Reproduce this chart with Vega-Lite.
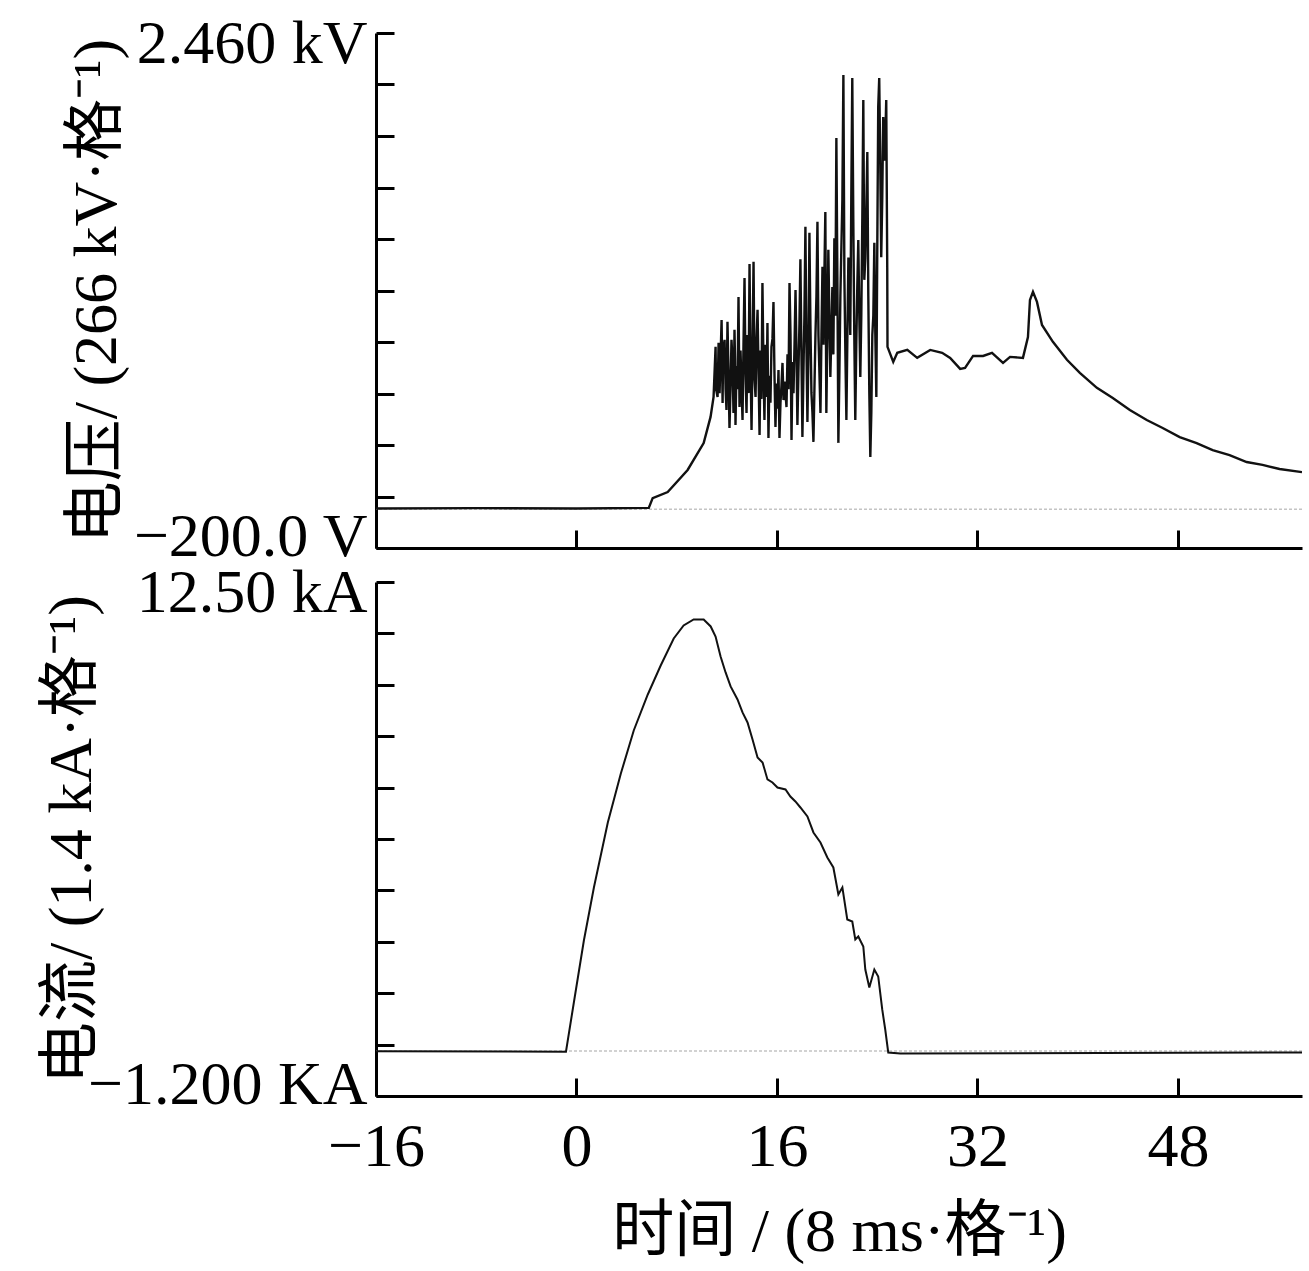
{
  "$schema": "https://vega.github.io/schema/vega-lite/v6.json",
  "background": "white",
  "padding": {"left": 40, "top": 12, "right": 5, "bottom": 10},
  "bounds": "flush",
  "spacing": 34,
  "datasets": {
    "voltage": [
      {"t": -16, "v": 0.004}, {"t": -8, "v": 0.006}, {"t": 0, "v": 0.004}, {"t": 5.77, "v": 0.007},
      {"t": 6.08, "v": 0.058}, {"t": 7.28, "v": 0.089}, {"t": 8.87, "v": 0.203}, {"t": 10.15, "v": 0.342},
      {"t": 10.7, "v": 0.477}, {"t": 10.94, "v": 0.58}, {"t": 11.1, "v": 0.839}, {"t": 11.14, "v": 0.62},
      {"t": 11.26, "v": 0.58}, {"t": 11.34, "v": 0.86}, {"t": 11.42, "v": 0.6}, {"t": 11.5, "v": 0.79},
      {"t": 11.58, "v": 0.978}, {"t": 11.66, "v": 0.549}, {"t": 11.7, "v": 0.82}, {"t": 11.82, "v": 0.875},
      {"t": 11.9, "v": 0.62}, {"t": 11.97, "v": 0.513}, {"t": 12.05, "v": 0.968}, {"t": 12.13, "v": 0.71},
      {"t": 12.21, "v": 0.42}, {"t": 12.29, "v": 0.62}, {"t": 12.37, "v": 0.875}, {"t": 12.45, "v": 0.77},
      {"t": 12.53, "v": 0.497}, {"t": 12.57, "v": 0.7}, {"t": 12.61, "v": 0.927}, {"t": 12.65, "v": 0.78},
      {"t": 12.69, "v": 0.435}, {"t": 12.77, "v": 0.74}, {"t": 12.85, "v": 0.62}, {"t": 12.93, "v": 1.097},
      {"t": 13.01, "v": 0.528}, {"t": 13.09, "v": 0.82}, {"t": 13.17, "v": 0.64}, {"t": 13.25, "v": 0.461},
      {"t": 13.33, "v": 0.86}, {"t": 13.41, "v": 1.195}, {"t": 13.49, "v": 0.7}, {"t": 13.57, "v": 0.497},
      {"t": 13.65, "v": 0.9}, {"t": 13.73, "v": 0.6}, {"t": 13.81, "v": 1.267}, {"t": 13.89, "v": 0.75},
      {"t": 13.97, "v": 0.41}, {"t": 14.05, "v": 0.83}, {"t": 14.13, "v": 1.278}, {"t": 14.21, "v": 0.67},
      {"t": 14.29, "v": 0.58}, {"t": 14.37, "v": 0.88}, {"t": 14.45, "v": 1.03}, {"t": 14.53, "v": 0.7},
      {"t": 14.61, "v": 0.384}, {"t": 14.69, "v": 0.82}, {"t": 14.76, "v": 0.57}, {"t": 14.84, "v": 1.169},
      {"t": 14.92, "v": 0.75}, {"t": 15.0, "v": 0.461}, {"t": 15.08, "v": 0.85}, {"t": 15.16, "v": 0.58},
      {"t": 15.24, "v": 0.962}, {"t": 15.32, "v": 0.368}, {"t": 15.4, "v": 0.69}, {"t": 15.48, "v": 0.55},
      {"t": 15.56, "v": 0.839}, {"t": 15.64, "v": 0.88}, {"t": 15.72, "v": 1.071}, {"t": 15.8, "v": 0.7},
      {"t": 15.88, "v": 0.425}, {"t": 15.96, "v": 0.65}, {"t": 16.04, "v": 0.52}, {"t": 16.12, "v": 0.719},
      {"t": 16.2, "v": 0.368}, {"t": 16.28, "v": 0.55}, {"t": 16.36, "v": 0.64}, {"t": 16.44, "v": 0.756},
      {"t": 16.52, "v": 0.564}, {"t": 16.6, "v": 0.66}, {"t": 16.68, "v": 0.6}, {"t": 16.76, "v": 0.528},
      {"t": 16.84, "v": 0.8}, {"t": 16.92, "v": 0.62}, {"t": 17.0, "v": 1.169}, {"t": 17.08, "v": 0.9},
      {"t": 17.16, "v": 0.358}, {"t": 17.24, "v": 0.76}, {"t": 17.32, "v": 0.6}, {"t": 17.4, "v": 0.85},
      {"t": 17.48, "v": 1.133}, {"t": 17.56, "v": 0.8}, {"t": 17.63, "v": 0.435}, {"t": 17.71, "v": 0.7},
      {"t": 17.79, "v": 0.95}, {"t": 17.87, "v": 1.291}, {"t": 17.95, "v": 0.82}, {"t": 18.03, "v": 0.373},
      {"t": 18.11, "v": 0.7}, {"t": 18.19, "v": 1.0}, {"t": 18.27, "v": 1.459}, {"t": 18.35, "v": 0.85},
      {"t": 18.43, "v": 0.451}, {"t": 18.51, "v": 0.8}, {"t": 18.59, "v": 1.428}, {"t": 18.67, "v": 0.95},
      {"t": 18.75, "v": 0.601}, {"t": 18.83, "v": 0.5}, {"t": 18.91, "v": 0.348}, {"t": 19.07, "v": 0.9},
      {"t": 19.15, "v": 1.1}, {"t": 19.23, "v": 1.485}, {"t": 19.31, "v": 0.9}, {"t": 19.39, "v": 0.7},
      {"t": 19.47, "v": 0.497}, {"t": 19.55, "v": 0.9}, {"t": 19.63, "v": 1.252}, {"t": 19.71, "v": 0.85},
      {"t": 19.78, "v": 1.2}, {"t": 19.86, "v": 1.536}, {"t": 19.94, "v": 0.497}, {"t": 20.02, "v": 0.9},
      {"t": 20.1, "v": 1.34}, {"t": 20.18, "v": 1.0}, {"t": 20.26, "v": 0.683}, {"t": 20.34, "v": 0.9},
      {"t": 20.42, "v": 1.148}, {"t": 20.5, "v": 0.8}, {"t": 20.58, "v": 1.4}, {"t": 20.66, "v": 1.0},
      {"t": 20.74, "v": 1.917}, {"t": 20.82, "v": 1.2}, {"t": 20.9, "v": 0.343}, {"t": 20.98, "v": 0.7},
      {"t": 21.06, "v": 1.1}, {"t": 21.14, "v": 1.355}, {"t": 21.22, "v": 1.6}, {"t": 21.3, "v": 2.243},
      {"t": 21.38, "v": 1.2}, {"t": 21.46, "v": 0.8}, {"t": 21.54, "v": 0.461}, {"t": 21.62, "v": 0.9},
      {"t": 21.7, "v": 1.3}, {"t": 21.77, "v": 1.148}, {"t": 21.85, "v": 0.9}, {"t": 21.93, "v": 1.6},
      {"t": 22.01, "v": 2.227}, {"t": 22.09, "v": 1.5}, {"t": 22.17, "v": 0.9}, {"t": 22.25, "v": 0.461},
      {"t": 22.33, "v": 0.85}, {"t": 22.41, "v": 1.15}, {"t": 22.49, "v": 1.391}, {"t": 22.57, "v": 1.0},
      {"t": 22.65, "v": 0.683}, {"t": 22.73, "v": 1.0}, {"t": 22.81, "v": 1.5}, {"t": 22.89, "v": 2.114},
      {"t": 22.97, "v": 1.185}, {"t": 23.05, "v": 1.3}, {"t": 23.13, "v": 1.55}, {"t": 23.21, "v": 1.845},
      {"t": 23.29, "v": 1.1}, {"t": 23.37, "v": 0.6}, {"t": 23.45, "v": 0.27}, {"t": 23.53, "v": 0.5},
      {"t": 23.61, "v": 0.9}, {"t": 23.69, "v": 1.0}, {"t": 23.77, "v": 1.376}, {"t": 23.85, "v": 0.9},
      {"t": 23.93, "v": 0.58}, {"t": 24.0, "v": 1.3}, {"t": 24.08, "v": 2.078}, {"t": 24.16, "v": 2.227},
      {"t": 24.24, "v": 1.8}, {"t": 24.32, "v": 1.302}, {"t": 24.4, "v": 1.6}, {"t": 24.48, "v": 2.026},
      {"t": 24.6, "v": 1.8}, {"t": 24.72, "v": 2.114}, {"t": 24.8, "v": 1.247}, {"t": 24.82, "v": 0.839},
      {"t": 25.28, "v": 0.761}, {"t": 25.6, "v": 0.808}, {"t": 26.4, "v": 0.823}, {"t": 27.19, "v": 0.782},
      {"t": 28.23, "v": 0.823}, {"t": 29.18, "v": 0.808}, {"t": 29.82, "v": 0.782}, {"t": 30.62, "v": 0.725},
      {"t": 31.01, "v": 0.73}, {"t": 31.65, "v": 0.792}, {"t": 32.45, "v": 0.792}, {"t": 33.16, "v": 0.808},
      {"t": 34.04, "v": 0.756}, {"t": 34.6, "v": 0.787}, {"t": 35.63, "v": 0.782}, {"t": 36.03, "v": 0.89},
      {"t": 36.19, "v": 1.081}, {"t": 36.43, "v": 1.123}, {"t": 36.75, "v": 1.071}, {"t": 37.15, "v": 0.952},
      {"t": 38.02, "v": 0.865}, {"t": 39.14, "v": 0.772}, {"t": 40.17, "v": 0.705}, {"t": 41.53, "v": 0.627},
      {"t": 42.8, "v": 0.575}, {"t": 44.16, "v": 0.513}, {"t": 45.51, "v": 0.461}, {"t": 46.78, "v": 0.42},
      {"t": 48.14, "v": 0.373}, {"t": 49.49, "v": 0.342}, {"t": 50.77, "v": 0.306}, {"t": 52.12, "v": 0.28},
      {"t": 53.48, "v": 0.244}, {"t": 54.75, "v": 0.229}, {"t": 56.11, "v": 0.208}, {"t": 57.9, "v": 0.192}
    ],
    "current": [
      {"t": -16, "i": -0.01}, {"t": -0.84, "i": -0.02}, {"t": -0.21, "i": 1.293}, {"t": 0.59, "i": 2.945},
      {"t": 1.39, "i": 4.358}, {"t": 2.5, "i": 6.09}, {"t": 3.54, "i": 7.396}, {"t": 4.57, "i": 8.542},
      {"t": 5.69, "i": 9.502}, {"t": 6.72, "i": 10.275}, {"t": 7.76, "i": 10.995}, {"t": 8.55, "i": 11.341},
      {"t": 9.35, "i": 11.501}, {"t": 10.15, "i": 11.501}, {"t": 10.71, "i": 11.315}, {"t": 11.1, "i": 11.048},
      {"t": 11.5, "i": 10.515}, {"t": 11.9, "i": 10.089}, {"t": 12.3, "i": 9.716}, {"t": 12.85, "i": 9.369},
      {"t": 13.25, "i": 9.023}, {"t": 13.65, "i": 8.756}, {"t": 14.05, "i": 8.303}, {"t": 14.45, "i": 7.823},
      {"t": 14.85, "i": 7.69}, {"t": 15.24, "i": 7.237}, {"t": 15.64, "i": 7.157}, {"t": 16.04, "i": 7.023},
      {"t": 16.68, "i": 6.97}, {"t": 17.07, "i": 6.783}, {"t": 17.47, "i": 6.65}, {"t": 17.87, "i": 6.49},
      {"t": 18.43, "i": 6.25}, {"t": 18.91, "i": 5.824}, {"t": 19.47, "i": 5.557}, {"t": 20.02, "i": 5.157},
      {"t": 20.5, "i": 4.891}, {"t": 20.9, "i": 4.171}, {"t": 21.22, "i": 4.358}, {"t": 21.61, "i": 3.505},
      {"t": 22.01, "i": 3.451}, {"t": 22.25, "i": 2.972}, {"t": 22.49, "i": 3.052}, {"t": 22.89, "i": 2.785},
      {"t": 23.05, "i": 2.172}, {"t": 23.37, "i": 1.693}, {"t": 23.77, "i": 2.172}, {"t": 24.08, "i": 1.986},
      {"t": 24.4, "i": 1.106}, {"t": 24.64, "i": 0.573}, {"t": 24.88, "i": -0.04}, {"t": 25.84, "i": -0.067},
      {"t": 57.9, "i": -0.04}
    ]
  },
  "vconcat": [
    {
      "width": 926,
      "height": 515,
      "layer": [
        {
          "data": {"values": [{"zero": 0}]},
          "mark": {"type": "rule", "color": "#c4c4c4", "strokeWidth": 1.5, "strokeDash": [3, 2]},
          "encoding": {
            "y": {"field": "zero", "type": "quantitative", "scale": {"domain": [-0.2, 2.46], "nice": false, "zero": false}}
          }
        },
        {
          "data": {"name": "voltage"},
          "mark": {"type": "line", "color": "#111111", "strokeWidth": 2.4, "clip": true},
          "encoding": {
            "x": {
              "field": "t", "type": "quantitative",
              "scale": {"domain": [-16, 57.9], "nice": false, "zero": false},
              "axis": {"values": [-16, 0, 16, 32, 48], "labels": false, "title": null}
            },
            "y": {
              "field": "v", "type": "quantitative",
              "scale": {"domain": [-0.2, 2.46], "nice": false, "zero": false},
              "axis": {
                "values": [-0.2, 0.066, 0.332, 0.598, 0.864, 1.13, 1.396, 1.662, 1.928, 2.194, 2.46],
                "labelExpr": "datum.value > 2.4 ? '2.460 kV' : (datum.value < -0.1 ? '−200.0 V' : '')",
                "title": "电压/ (266 kV·格⁻¹)"
              }
            }
          }
        }
      ]
    },
    {
      "width": 926,
      "height": 514,
      "layer": [
        {
          "data": {"values": [{"zero": 0}]},
          "mark": {"type": "rule", "color": "#c4c4c4", "strokeWidth": 1.5, "strokeDash": [3, 2]},
          "encoding": {
            "y": {"field": "zero", "type": "quantitative", "scale": {"domain": [-1.2, 12.5], "nice": false, "zero": false}}
          }
        },
        {
          "data": {"name": "current"},
          "mark": {"type": "line", "color": "#111111", "strokeWidth": 2, "clip": true},
          "encoding": {
            "x": {
              "field": "t", "type": "quantitative",
              "scale": {"domain": [-16, 57.9], "nice": false, "zero": false},
              "axis": {"values": [-16, 0, 16, 32, 48], "title": "时间 / (8 ms·格⁻¹)", "labelPadding": 38}
            },
            "y": {
              "field": "i", "type": "quantitative",
              "scale": {"domain": [-1.2, 12.5], "nice": false, "zero": false},
              "axis": {
                "values": [-1.2, 0.17, 1.54, 2.91, 4.28, 5.65, 7.02, 8.39, 9.76, 11.13, 12.5],
                "labelExpr": "datum.value > 12.4 ? '12.50 kA' : (datum.value < -1.1 ? '−1.200 KA' : '')",
                "title": "电流/ (1.4 kA·格⁻¹)",
                "titlePadding": -16
              }
            }
          }
        }
      ]
    }
  ],
  "config": {
    "font": "Liberation Serif, Noto Sans CJK SC",
    "view": {"stroke": null},
    "axis": {
      "grid": false,
      "domainColor": "black",
      "domainWidth": 3,
      "tickColor": "black",
      "tickWidth": 3,
      "tickSize": -18,
      "labelFontSize": 62,
      "titleFontSize": 62,
      "labelColor": "black",
      "titleColor": "black",
      "titleFontWeight": "normal",
      "labelOverlap": false,
      "labelLimit": 0,
      "maxExtent": 400
    },
    "axisY": {
      "labelPadding": 27,
      "labelFlush": true,
      "labelFlushOffset": 20,
      "titlePadding": 4
    },
    "axisX": {
      "labelFlush": false,
      "titlePadding": 24
    }
  }
}
